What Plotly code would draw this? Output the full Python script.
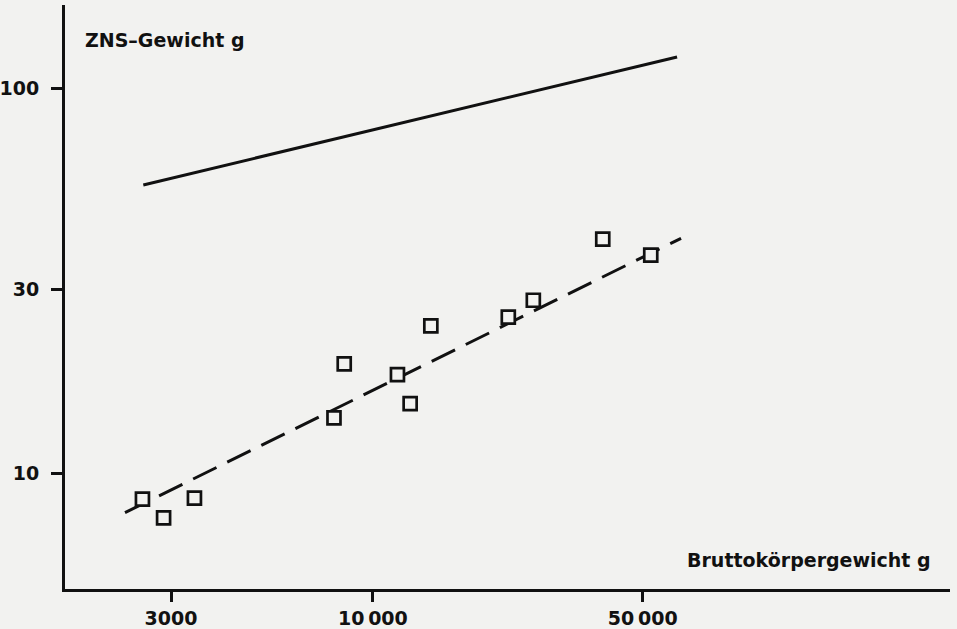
import plotly.graph_objects as go

# Data (log-log chart)
body_weight = [2530, 2870, 3450, 7930, 8430, 11580, 12490, 14130, 22430, 26040, 39400, 52460]
cns_weight = [8.55, 7.65, 8.60, 13.9, 19.2, 18.0, 15.15, 24.1, 25.4, 28.1, 40.5, 36.8]

fit_x = [2280, 62850]
fit_y = [7.89, 40.7]

upper_x = [2543, 61380]
upper_y = [56.0, 120.4]

x_tickvals = [3000, 10000, 50000]
x_ticktext = ["3000", "10\u2009000", "50\u2009000"]
y_tickvals = [10, 30, 100]
y_ticktext = ["10", "30", "100"]

x_label = "Bruttokörpergewicht g"
y_label = "ZNS\u2013Gewicht g"

BG = "#f2f2f0"
INK = "#111111"
FONT = "DejaVu Sans"
FS = 19

fig = go.Figure()
fig.add_trace(go.Scatter(x=upper_x, y=upper_y, mode="lines",
                         line=dict(color=INK, width=3), showlegend=False))
fig.add_trace(go.Scatter(x=fit_x, y=fit_y, mode="lines",
                         line=dict(color=INK, width=3, dash="26px,12px"), showlegend=False))
fig.add_trace(go.Scatter(x=body_weight, y=cns_weight, mode="markers",
                         marker=dict(symbol="square", size=13, color=BG,
                                     line=dict(color=INK, width=2.7)),
                         showlegend=False))

fig.update_layout(
    width=957, height=629,
    margin=dict(l=65, r=7, t=5, b=40),
    paper_bgcolor=BG, plot_bgcolor=BG,
    font=dict(family=FONT, color=INK, size=FS),
    xaxis=dict(type="log", range=[3.2025, 5.495], showgrid=False, zeroline=False,
               showline=True, linecolor=INK, linewidth=3,
               ticks="outside", ticklen=10, tickwidth=3, tickcolor=INK,
               tickvals=x_tickvals, ticktext=x_ticktext, automargin=False,
               tickfont=dict(family=FONT, size=FS, weight="bold")),
    yaxis=dict(type="log", range=[0.6987, 2.2156], showgrid=False, zeroline=False,
               showline=True, linecolor=INK, linewidth=3,
               ticks="outside", ticklen=11, tickwidth=3, tickcolor=INK,
               tickvals=y_tickvals, ticktext=y_ticktext, ticklabelstandoff=8,
               automargin=False,
               tickfont=dict(family=FONT, size=FS, weight="bold")),
    annotations=[
        dict(text=y_label, xref="paper", yref="paper", x=0.0203, y=0.940,
             xanchor="left", yanchor="middle", showarrow=False,
             font=dict(family=FONT, size=FS, weight="bold", color=INK)),
        dict(text=x_label, xref="paper", yref="paper", x=0.981, y=0.0497,
             xanchor="right", yanchor="middle", showarrow=False,
             font=dict(family=FONT, size=FS, weight="bold", color=INK)),
    ],
)

fig.write_html("out.html", config={"displayModeBar": False},
               post_script="document.body.style.margin='0';document.body.style.background='%s';" % BG)
